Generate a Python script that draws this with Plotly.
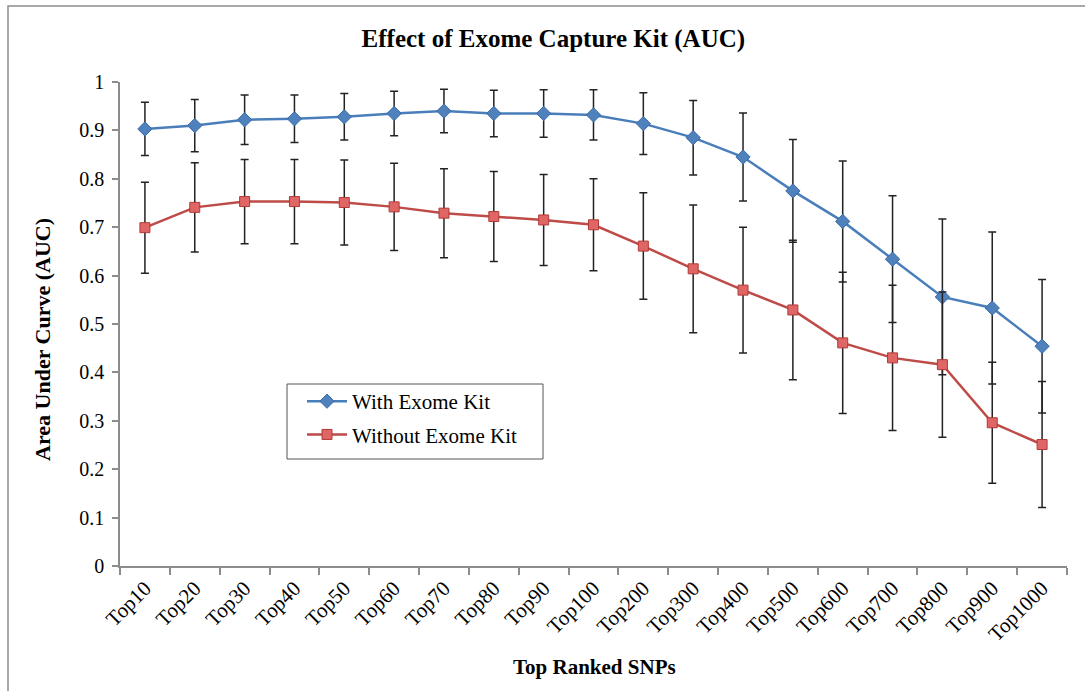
import plotly.graph_objects as go

categories = ["Top10", "Top20", "Top30", "Top40", "Top50", "Top60", "Top70", "Top80", "Top90",
              "Top100", "Top200", "Top300", "Top400", "Top500", "Top600", "Top700", "Top800",
              "Top900", "Top1000"]

with_kit = [0.903, 0.910, 0.922, 0.924, 0.928, 0.935, 0.940, 0.935, 0.935,
            0.932, 0.914, 0.885, 0.845, 0.775, 0.712, 0.634, 0.556, 0.533, 0.454]
with_kit_err = [0.055, 0.054, 0.051, 0.049, 0.048, 0.046, 0.045, 0.048, 0.049,
                0.052, 0.064, 0.077, 0.091, 0.106, 0.125, 0.131, 0.161, 0.157, 0.138]

without_kit = [0.699, 0.741, 0.753, 0.753, 0.751, 0.742, 0.729, 0.722, 0.715,
               0.705, 0.661, 0.614, 0.570, 0.529, 0.461, 0.430, 0.416, 0.296, 0.251]
without_kit_err = [0.094, 0.092, 0.087, 0.087, 0.088, 0.090, 0.092, 0.093, 0.094,
                   0.095, 0.110, 0.132, 0.130, 0.144, 0.146, 0.150, 0.150, 0.125, 0.130]

FONT = "Liberation Serif, Times New Roman, serif"

# pixel helpers for paper coordinates (plot area: x 120..1067, y 82..566)
def px(x):
    return (x - 120) / 947

def py(y):
    return (566 - y) / 484

fig = go.Figure()
fig.add_trace(go.Scatter(
    x=categories, y=with_kit, name="With Exome Kit", mode="lines+markers", legendgroup="a",
    line=dict(color="#4A7EBB", width=2.5),
    marker=dict(symbol="diamond", size=11, color="#4F81BD", line=dict(color="#3A6AA8", width=1)),
    error_y=dict(type="data", array=with_kit_err, visible=True, color="#222222", thickness=1.5, width=4),
))
fig.add_trace(go.Scatter(
    x=categories, y=without_kit, name="Without Exome Kit", mode="lines+markers", legendgroup="b",
    line=dict(color="#BE4B48", width=2.5),
    marker=dict(symbol="square", size=10, color="#E06666", line=dict(color="#B03A37", width=1)),
    error_y=dict(type="data", array=without_kit_err, visible=True, color="#222222", thickness=1.5, width=4),
))

fig.update_layout(
    width=1085, height=691,
    margin=dict(l=120, r=18, t=82, b=125),
    paper_bgcolor="white", plot_bgcolor="white",
    font=dict(family=FONT, size=20, color="black"),
    title=dict(text="<b>Effect of Exome Capture Kit (AUC)</b>", x=0.51, xanchor="center",
               y=1 - 38 / 691, yanchor="middle", font=dict(family=FONT, size=25, color="black")),
    showlegend=True,
    legend=dict(x=px(302), y=py(381), xanchor="left", yanchor="top",
                borderwidth=0, bgcolor="rgba(0,0,0,0)", tracegroupgap=3,
                font=dict(family=FONT, size=21, color="black"),
                itemwidth=40),
    xaxis=dict(type="category", range=[-0.5, 18.5], showgrid=False, showline=True,
               linecolor="#8c8c8c", linewidth=1.5, ticks="outside", tickson="boundaries",
               ticklen=7, tickcolor="#8c8c8c", tickwidth=1.5, tickangle=-45,
               tickfont=dict(family=FONT, size=21, color="black")),
    yaxis=dict(range=[0, 1], dtick=0.1, tick0=0, showgrid=False, showline=True,
               linecolor="#8c8c8c", linewidth=1.5, ticks="outside", ticklen=6,
               tickcolor="#8c8c8c", tickwidth=1.5, zeroline=False, ticklabelstandoff=4,
               tickfont=dict(family=FONT, size=20, color="black")),
    annotations=[
        dict(text="<b>Top Ranked SNPs</b>", xref="paper", yref="paper",
             x=px(594), y=py(667), xanchor="center", yanchor="middle",
             showarrow=False, font=dict(family=FONT, size=21, color="black")),
        dict(text="<b>Area Under Curve (AUC)</b>", xref="paper", yref="paper",
             x=px(42), y=py(340), xanchor="center", yanchor="middle",
             textangle=-90, showarrow=False, font=dict(family=FONT, size=22, color="black")),
    ],
    shapes=[
        dict(type="rect", xref="paper", yref="paper",
             x0=px(8), x1=px(1100), y0=py(710), y1=py(6),
             line=dict(color="#8c8c8c", width=1.5), fillcolor="rgba(0,0,0,0)", layer="below"),
        dict(type="rect", xref="paper", yref="paper",
             x0=px(287), x1=px(543), y0=py(459), y1=py(384),
             line=dict(color="#555555", width=1), fillcolor="white", layer="above"),
    ],
)

fig.write_html("out.html")
